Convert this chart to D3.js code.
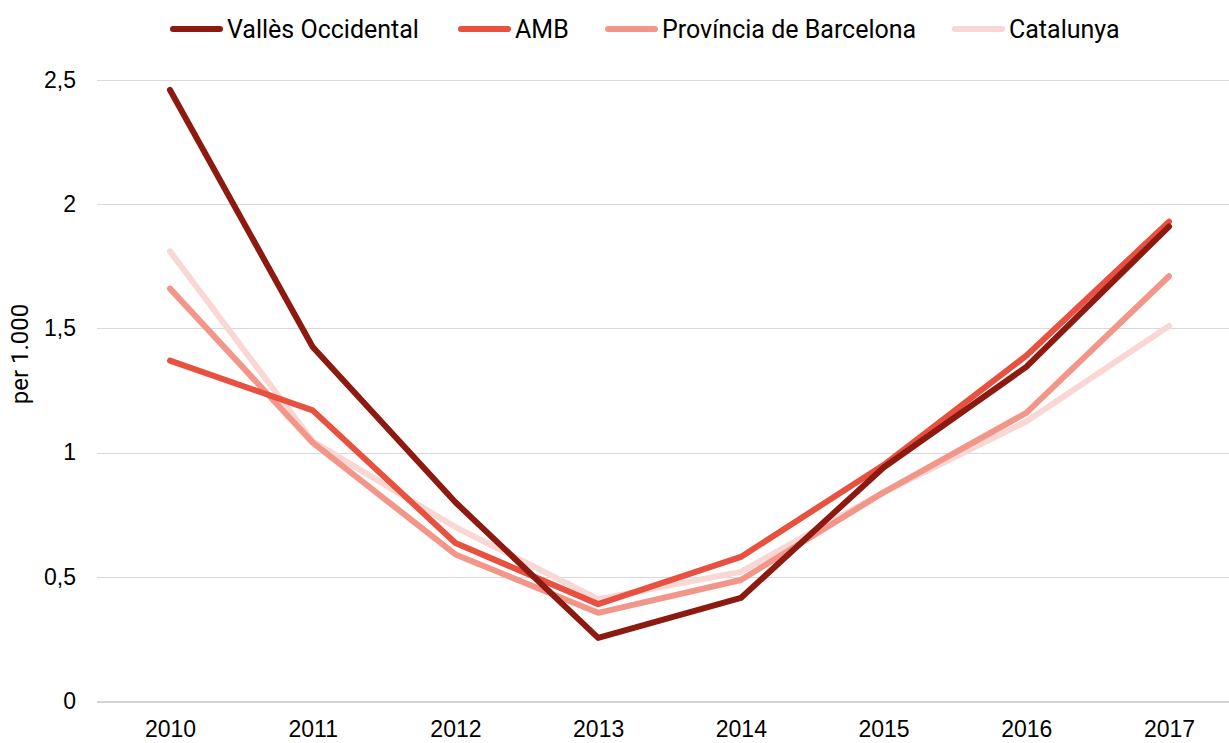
<!DOCTYPE html>
<head>
<meta charset="utf-8">
<title>per 1.000</title>
<style>
body { margin: 0; background: #fff; }
svg { font-family: Roboto, "Noto Sans", sans-serif; }
.grid line { stroke: #d9d9d9; stroke-width: 1; shape-rendering: crispEdges; }
.tick text { fill: #000; font-size: 23px; }
</style>
</head>
<body>
<svg id="chart"></svg>
<script src="https://d3js.org/d3.v7.min.js"></script>
<script>

var years = [2010, 2011, 2012, 2013, 2014, 2015, 2016, 2017];
var seriesNames = ["Vallès Occidental", "AMB", "Província de Barcelona", "Catalunya"];
var valles    = [2.46, 1.425, 0.80, 0.254, 0.415, 0.94, 1.345, 1.91];
var amb       = [1.37, 1.17, 0.636, 0.39, 0.58, 0.95, 1.39, 1.93];
var provincia = [1.66, 1.04, 0.59, 0.355, 0.487, 0.84, 1.16, 1.71];
var catalunya = [1.81, 1.045, 0.70, 0.41, 0.52, 0.84, 1.125, 1.51];
var yTicks = [0, 0.5, 1, 1.5, 2, 2.5];
var colors = ["#8c1a11", "#e8503f", "#f3968a", "#f9d7d4"];

var seriesValues = [valles, amb, provincia, catalunya];

var width = 1229, height = 743;

var svg = d3.select("#chart")
    .attr("width", width)
    .attr("height", height);

var x = d3.scalePoint()
    .domain(years)
    .range([170, 1169]);

var y = d3.scaleLinear()
    .domain([0, 2.5])
    .range([701, 80]);

// horizontal grid
var gy = svg.append("g")
    .attr("class", "grid")
    .attr("transform", "translate(97,0)")
    .call(d3.axisLeft(y)
        .tickValues(yTicks)
        .tickSize(-(width - 97))
        .tickPadding(21)
        .tickFormat(function(d) { return String(d).replace(".", ","); }));
gy.select(".domain").remove();
gy.selectAll(".tick line").filter(function(d) { return d === 0; })
    .style("stroke-width", 2).style("stroke", "#d4d4d4");

var gx = svg.append("g")
    .attr("class", "grid")
    .attr("transform", "translate(0,701)")
    .call(d3.axisBottom(x).tickSize(0).tickPadding(20));
gx.select(".domain").remove();

svg.append("text")
    .attr("transform", "translate(28,354) rotate(-90)")
    .attr("text-anchor", "middle")
    .style("font-size", "24px")
    .text("per 1.000");

var line = d3.line()
    .x(function(d, i) { return x(years[i]); })
    .y(function(d) { return y(d); });

// draw light first so darker lines sit on top
for (var s = seriesValues.length - 1; s >= 0; s--) {
  svg.append("path")
      .datum(seriesValues[s])
      .attr("d", line)
      .attr("fill", "none")
      .attr("stroke", colors[s])
      .attr("stroke-width", 6)
      .attr("stroke-linecap", "round")
      .attr("stroke-linejoin", "round");
}

// legend
var legendX = [171, 459, 606, 953];
var legend = svg.append("g");
seriesNames.forEach(function(name, i) {
  legend.append("line")
      .attr("x1", legendX[i] + 2).attr("x2", legendX[i] + 49)
      .attr("y1", 29).attr("y2", 29)
      .attr("stroke", colors[i])
      .attr("stroke-width", 6)
      .attr("stroke-linecap", "round");
  legend.append("text")
      .attr("x", legendX[i] + 56)
      .attr("y", 29)
      .attr("dy", "0.35em")
      .style("font-size", "25px")
      .text(name);
});

</script>
</body>
